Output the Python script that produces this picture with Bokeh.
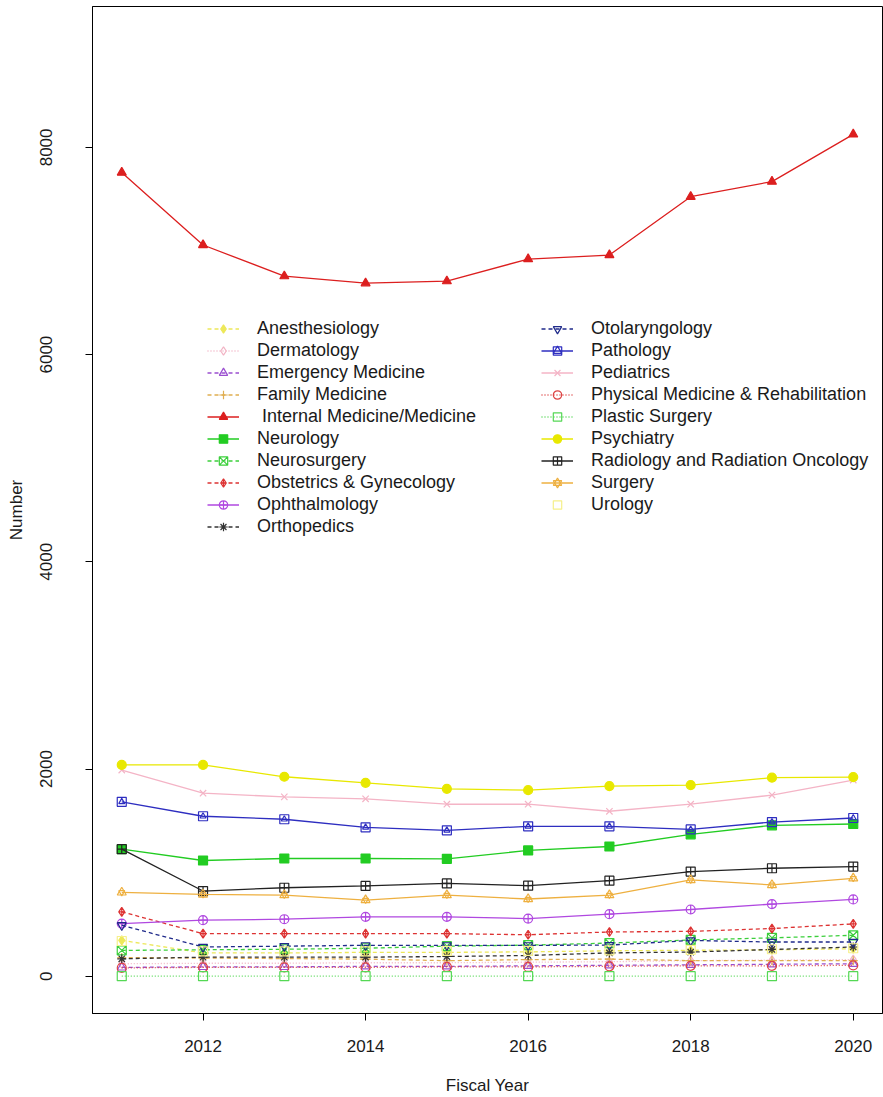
from bokeh.plotting import figure
from bokeh.models import Legend, LegendItem, Range1d, FixedTicker
from bokeh.embed import file_html
from bokeh.resources import INLINE

years = [2011, 2012, 2013, 2014, 2015, 2016, 2017, 2018, 2019, 2020]

anesthesiology = [346, 225, 225, 230, 230, 235, 245, 250, 255, 265]
dermatology = [120, 125, 125, 130, 130, 135, 140, 150, 155, 160]
emergency_medicine = [85, 90, 90, 95, 95, 100, 105, 110, 115, 120]
family_medicine = [180, 175, 170, 165, 150, 160, 165, 150, 150, 150]
internal_medicine = [7757, 7058, 6757, 6689, 6709, 6922, 6961, 7524, 7670, 8126]
neurology = [1226, 1117, 1136, 1136, 1133, 1214, 1252, 1369, 1456, 1469]
neurosurgery = [249, 255, 260, 270, 290, 300, 320, 350, 370, 395]
obstetrics = [621, 411, 411, 411, 411, 400, 427, 433, 460, 505]
ophthalmology = [508, 541, 550, 573, 573, 556, 599, 644, 696, 741]
orthopedics = [168, 184, 184, 184, 190, 200, 225, 233, 258, 282]
otolaryngology = [492, 282, 290, 298, 298, 298, 300, 345, 330, 330]
pathology = [1683, 1544, 1515, 1437, 1408, 1447, 1447, 1417, 1488, 1527]
pediatrics = [1990, 1767, 1731, 1712, 1660, 1660, 1592, 1660, 1748, 1893]
pmr = [80, 85, 85, 85, 90, 90, 95, 100, 100, 105]
plastic_surgery = [0, 0, 0, 0, 0, 0, 0, 0, 0, 0]
psychiatry = [2039, 2039, 1925, 1867, 1809, 1796, 1835, 1845, 1916, 1922]
radiology = [1226, 822, 854, 871, 896, 874, 922, 1010, 1042, 1058]
surgery = [809, 789, 783, 735, 783, 745, 783, 929, 881, 945]
urology = [340, 240, 240, 240, 245, 245, 250, 255, 260, 270]

y_ticks = [0, 2000, 4000, 6000, 8000]
x_ticks = [2012, 2014, 2016, 2018, 2020]

labels = ["Anesthesiology", "Dermatology", "Emergency Medicine", "Family Medicine",
          " Internal Medicine/Medicine", "Neurology", "Neurosurgery",
          "Obstetrics & Gynecology", "Ophthalmology", "Orthopedics",
          "Otolaryngology", "Pathology", "Pediatrics",
          "Physical Medicine & Rehabilitation", "Plastic Surgery", "Psychiatry",
          "Radiology and Radiation Oncology", "Surgery", "Urology"]
values = [anesthesiology, dermatology, emergency_medicine, family_medicine,
          internal_medicine, neurology, neurosurgery, obstetrics, ophthalmology,
          orthopedics, otolaryngology, pathology, pediatrics, pmr, plastic_surgery,
          psychiatry, radiology, surgery, urology]

# style: (color, dash or None for no line, [markers], filled)
styles = [
    ("#EDE85A", "4 3", ["diamond"], True),
    ("#F2B3C4", "1 2", ["diamond"], False),
    ("#9A4FD0", "4 3", ["triangle"], False),
    ("#E0AE50", "4 3", ["cross"], False),
    ("#DC1F1F", "solid", ["triangle"], True),
    ("#22CC22", "solid", ["square"], True),
    ("#3CCF3C", "4 3", ["square_x"], False),
    ("#DD3333", "4 3", ["diamond_cross"], False),
    ("#B048E0", "solid", ["circle_cross"], False),
    ("#333333", "4 3", ["asterisk"], False),
    ("#1F2A8A", "4 3", ["inverted_triangle"], False),
    ("#2E2EC0", "solid", ["square", "triangle"], False),
    ("#F4B4C6", "solid", ["x"], False),
    ("#DD4444", "1 2", ["circle"], False),
    ("#55D855", "1 2", ["square"], False),
    ("#E8E800", "solid", ["circle"], True),
    ("#222222", "solid", ["square_cross"], False),
    ("#EEB040", "solid", ["triangle", "inverted_triangle"], False),
    ("#F6F08A", None, ["square"], False),
]

p = figure(width=883, height=1097, output_backend="svg", toolbar_location=None,
           x_range=Range1d(2010.64, 2020.36), y_range=Range1d(-360, 9360),
           min_border_left=92, min_border_right=1, min_border_top=6,
           min_border_bottom=84)
p.xgrid.visible = False
p.ygrid.visible = False
p.outline_line_color = "black"
p.outline_line_width = 1
p.background_fill_color = "white"
p.border_fill_color = "white"

FONT = "Liberation Sans"
for ax in (p.xaxis[0], p.yaxis[0]):
    ax.major_tick_out = 7
    ax.major_tick_in = 0
    ax.minor_tick_out = 0
    ax.minor_tick_in = 0
    ax.axis_line_color = "black"
    ax.major_tick_line_color = "black"
    ax.major_label_text_font = FONT
    ax.major_label_text_font_size = "17px"
    ax.major_label_text_color = "#1a1a1a"
    ax.axis_label_text_font = FONT
    ax.axis_label_text_font_size = "17px"
    ax.axis_label_text_font_style = "normal"
    ax.axis_label_text_color = "#1a1a1a"

p.xaxis.ticker = FixedTicker(ticks=x_ticks)
p.yaxis.ticker = FixedTicker(ticks=y_ticks)
p.xaxis.axis_label = "Fiscal Year"
p.yaxis.axis_label = "Number"
p.yaxis.major_label_orientation = "vertical"
p.xaxis.major_label_standoff = 19
p.xaxis.axis_label_standoff = 21
p.yaxis.major_label_standoff = 33
p.yaxis.axis_label_standoff = 12

items = []
for lab, vals, (color, dash, markers, filled) in zip(labels, values, styles):
    rends = []
    if dash is not None:
        rends.append(p.line(years, vals, line_color=color, line_width=1.3, line_dash=dash))
    for i, m in enumerate(markers):
        size = 9 if i == 0 else 6
        rends.append(p.scatter(years, vals, marker=m, size=size, line_color=color,
                               line_width=1.2, fill_color=color,
                               fill_alpha=1.0 if filled else 0.0))
    items.append(LegendItem(label=lab, renderers=rends))

common = dict(orientation="vertical", glyph_width=32, glyph_height=21, label_height=21,
              spacing=1, padding=0, margin=0, label_standoff=18,
              border_line_alpha=0, background_fill_alpha=0,
              label_text_font=FONT, label_text_font_size="18px",
              label_text_color="#1a1a1a")
leg1 = Legend(items=items[:10], location=(115, 476), **common)
leg2 = Legend(items=items[10:], location=(449, 498), **common)
p.add_layout(leg1)
p.add_layout(leg2)

open("out.html", "w").write(file_html(p, INLINE))
